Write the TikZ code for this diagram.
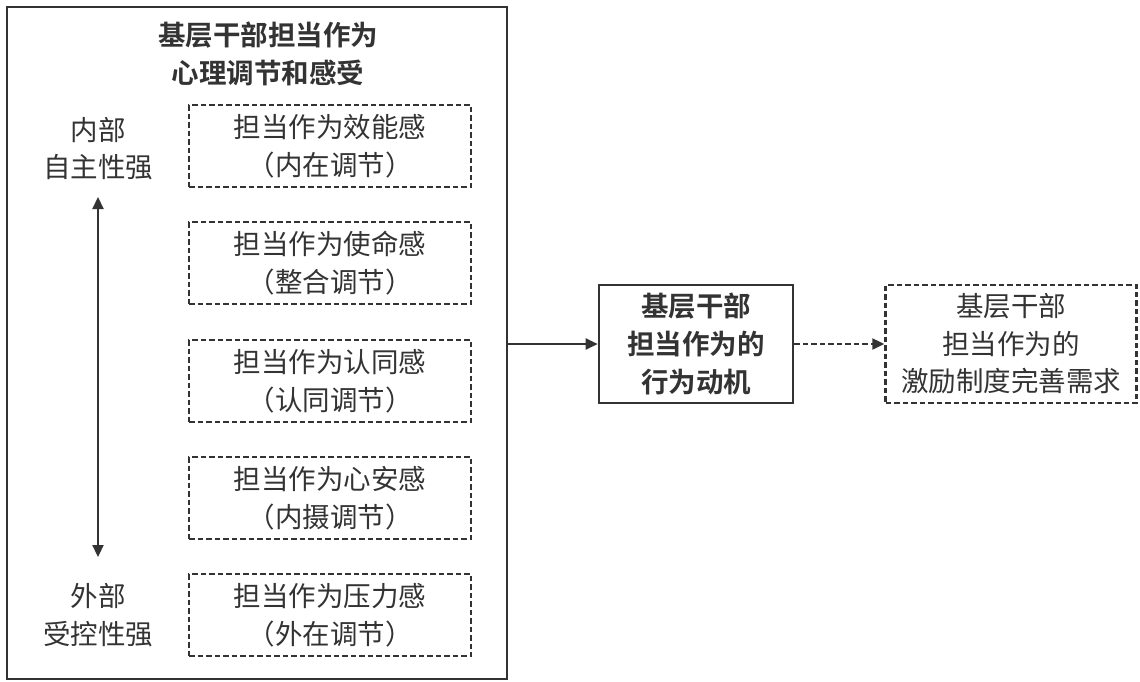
\documentclass[tikz,border=0pt]{standalone}
\usepackage{fontspec}
\newfontfamily\cjk[BoldFont={Noto Sans CJK SC Bold}]{Noto Sans CJK SC}
\usetikzlibrary{arrows.meta}
\definecolor{ink}{HTML}{333333}
\begin{document}
\begin{tikzpicture}[x=1pt,y=-1pt,
  every node/.style={text=ink,font=\cjk\fontsize{27.5}{37.5}\selectfont,align=center,inner sep=0pt},
  dbox/.style={draw=ink,line width=2.4pt,dash pattern=on 5.5pt off 3pt,minimum width=282pt,minimum height=82pt},
  sbox/.style={draw=ink,line width=2.6pt},
  arr/.style={draw=ink,line width=2.2pt,-{Triangle[length=12pt,width=11pt]}}
]
\useasboundingbox (0,0) rectangle (1140,681);
\node[sbox,minimum width=500pt,minimum height=672pt] (outer) at (257,343) {};
\node[font=\cjk\bfseries\fontsize{27.5}{38}\selectfont] (title) at (268,54) {基层干部担当作为\\心理调节和感受};
\node[dbox] (b1) at (330,146) {担当作为效能感\\（内在调节）};
\node[dbox] (b2) at (330,263) {担当作为使命感\\（整合调节）};
\node[dbox] (b3) at (330,381) {担当作为认同感\\（认同调节）};
\node[dbox] (b4) at (330,498) {担当作为心安感\\（内摄调节）};
\node[dbox] (b5) at (330,615) {担当作为压力感\\（外在调节）};
\node (ltop) at (98,148.5) {内部\\自主性强};
\node (lbot) at (98,615) {外部\\受控性强};
\coordinate (atop) at (98,197);
\coordinate (abot) at (98,557);
\draw[draw=ink,line width=2.2pt,{Triangle[length=12pt,width=11pt]}-{Triangle[length=12pt,width=11pt]}] (atop) -- (abot);
\node[sbox,minimum width=194pt,minimum height=118pt,font=\cjk\bfseries\fontsize{27.5}{38}\selectfont] (mid) at (696,344) {基层干部\\担当作为的\\行为动机};
\node[dbox,minimum width=251pt,minimum height=118pt] (right) at (1011,344) {基层干部\\担当作为的\\激励制度完善需求};
\draw[arr] (mid.west -| outer.east) -- (mid.west);
\draw[arr,dash pattern=on 5.5pt off 3pt] (mid.east) -- (right.west);
\end{tikzpicture}
\end{document}
